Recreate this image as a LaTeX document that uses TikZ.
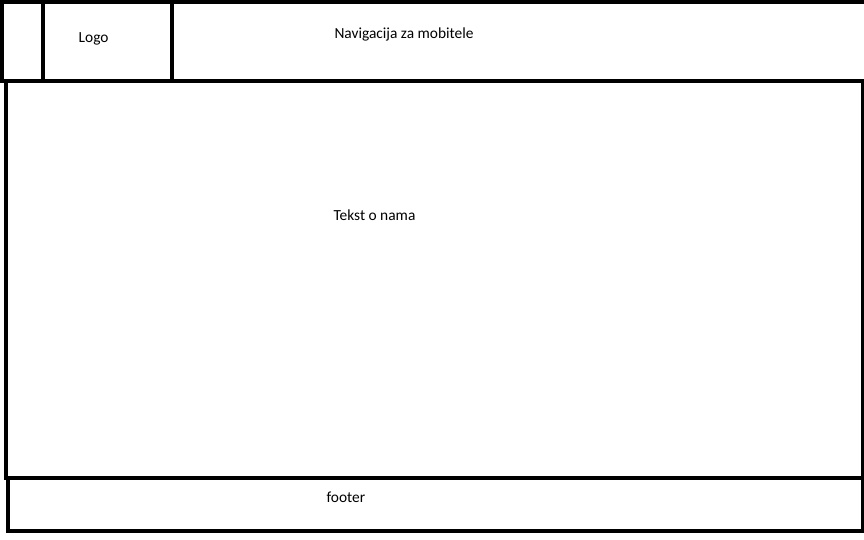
\documentclass[tikz,border=0pt]{standalone}
\usepackage{fontspec}
\setmainfont{Carlito}

\begin{document}
\begin{tikzpicture}
[x=1pt, y=-1pt,
every node/.style={outer sep=0pt, inner sep=0pt},
box/.style={draw, line width=4pt, anchor=north west},
caption/.style={anchor=base west, font=\fontsize{15.4}{18}\selectfont},
]
\useasboundingbox (0,0) rectangle (864,540);

% header with logo
\node[box, minimum width=868pt, minimum height=79pt] (header) at (2,2) {};
\node[box, minimum width=129pt, minimum height=79pt] (logo) at (43,2) {};
% content and footer
\node[box, minimum width=856.5pt, minimum height=396.5pt] (content) at (6,81) {};
\node[box, minimum width=855pt, minimum height=52.5pt] (footer) at (7.5,478) {};

\node[caption] (logotext) at (78.7,42.7) {Logo};
\node[caption] (navtext) at (334.5,38.3) {Navigacija za mobitele};
\node[caption] (contenttext) at (333.5,220) {Tekst o nama};
\node[caption] (footertext) at (326.5,502.7) {footer};
\end{tikzpicture}
\end{document}
